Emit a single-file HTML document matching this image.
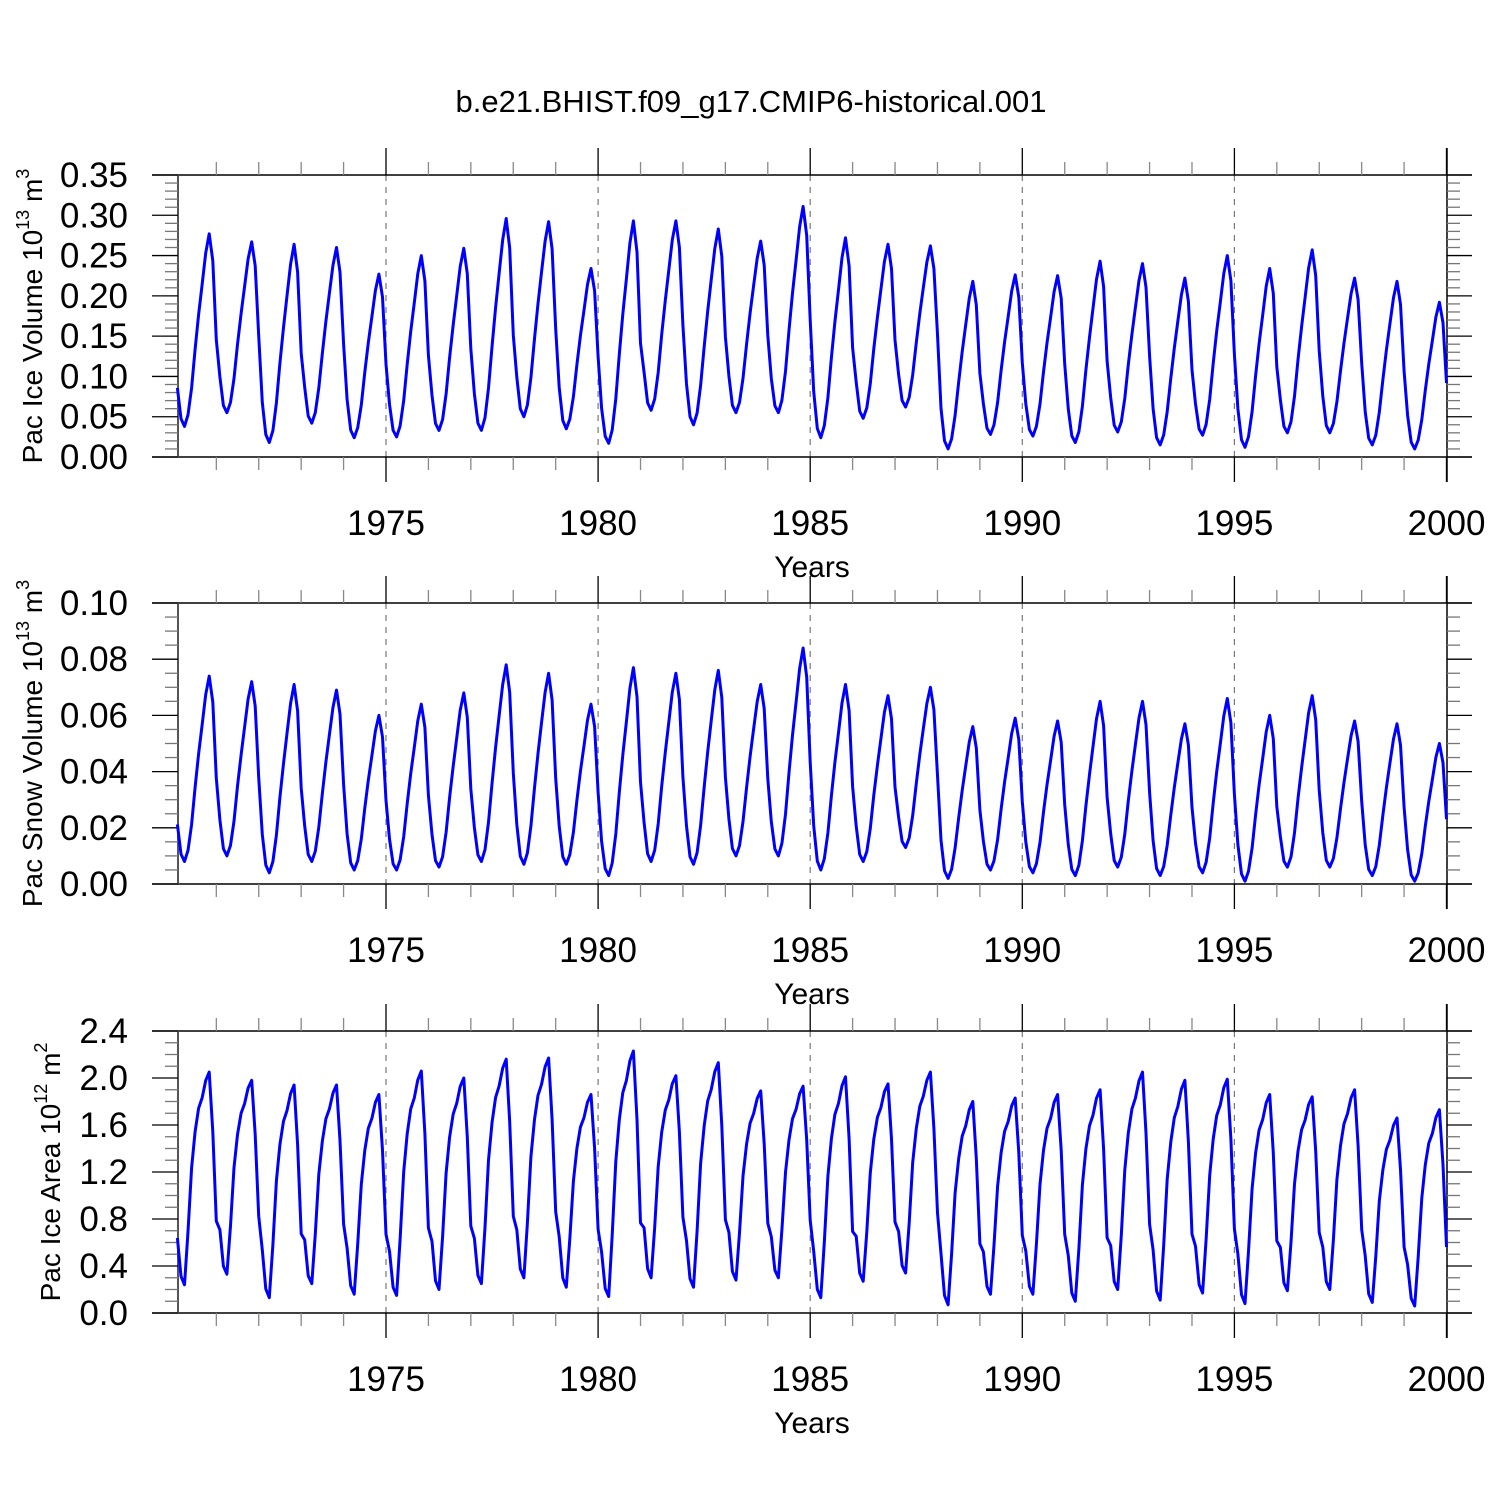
<!DOCTYPE html>
<html><head><meta charset="utf-8"><style>
body{margin:0;background:#fff}
svg{display:block}
text{font-family:"Liberation Sans",Arial,sans-serif;fill:#000}
</style></head><body>
<svg id="chart" width="1500" height="1500" viewBox="0 0 1500 1500" xmlns="http://www.w3.org/2000/svg">
<rect width="1500" height="1500" fill="#fff"/>
<text x="751" y="112" font-size="31" text-anchor="middle">b.e21.BHIST.f09_g17.CMIP6-historical.001</text>
</svg>
<script>
// ---- data (per-year seasonal peaks / troughs) ----
const years = [1970,1971,1972,1973,1974,1975,1976,1977,1978,1979,1980,1981,1982,1983,1984,1985,1986,1987,1988,1989,1990,1991,1992,1993,1994,1995,1996,1997,1998,1999];
const xTickLabels = ["1975","1980","1985","1990","1995","2000"];
const icePeaks = [0.277,0.267,0.264,0.260,0.227,0.250,0.259,0.296,0.292,0.234,0.293,0.293,0.283,0.268,0.311,0.272,0.264,0.262,0.218,0.226,0.225,0.243,0.240,0.222,0.250,0.234,0.257,0.222,0.218,0.192];
const iceTroughs = [0.038,0.055,0.018,0.042,0.024,0.025,0.033,0.033,0.050,0.035,0.017,0.058,0.040,0.055,0.055,0.024,0.048,0.062,0.010,0.028,0.026,0.018,0.031,0.015,0.027,0.012,0.030,0.030,0.015,0.010];
const snowPeaks = [0.074,0.072,0.071,0.069,0.060,0.064,0.068,0.078,0.075,0.064,0.077,0.075,0.076,0.071,0.084,0.071,0.067,0.070,0.056,0.059,0.058,0.065,0.065,0.057,0.066,0.060,0.067,0.058,0.057,0.050];
const snowTroughs = [0.008,0.010,0.004,0.008,0.005,0.005,0.006,0.008,0.007,0.007,0.003,0.008,0.007,0.010,0.010,0.005,0.008,0.013,0.002,0.005,0.004,0.003,0.006,0.003,0.004,0.001,0.006,0.006,0.003,0.001];
const areaPeaks = [2.05,1.98,1.94,1.94,1.86,2.06,2.00,2.16,2.17,1.86,2.23,2.02,2.13,1.89,1.93,2.01,1.95,2.05,1.80,1.83,1.86,1.90,2.05,1.98,1.99,1.86,1.84,1.90,1.66,1.73];
const areaTroughs = [0.24,0.33,0.13,0.25,0.16,0.15,0.20,0.25,0.30,0.22,0.14,0.30,0.22,0.28,0.30,0.13,0.27,0.34,0.07,0.16,0.16,0.10,0.20,0.11,0.17,0.08,0.19,0.20,0.09,0.06];
// monthly seasonal shape (fraction of annual range), Jan..Dec
const volShape = [0.2,0.04,0,0.06,0.2,0.4,0.58,0.74,0.9,1,0.86,0.45];
const areaShape = [0.22,0.04,0,0.25,0.55,0.72,0.83,0.88,0.96,1,0.72,0.3];

const NS="http://www.w3.org/2000/svg";
const svg=document.getElementById('chart');
function el(tag,attrs,parent){const e=document.createElementNS(NS,tag);for(const k in attrs)e.setAttribute(k,attrs[k]);(parent||svg).appendChild(e);return e;}
const X0=386, PXY=42.42;
function xs(t){return X0+(t-1975)*PXY;}
const L=152,R=1472,SL=178,SR=1447;

function monthly(peaks,troughs,shape){
  const out=[];
  for(let i=0;i<years.length;i++){
    for(let m=0;m<12;m++){
      let top=peaks[i];
      if(m<2&&i>0) top=peaks[i-1];
      out.push({t:years[i]+(m+1)/12, v:troughs[i]+(top-troughs[i])*shape[m]});
    }
  }
  return out;
}

function panel(cfg){
  const g=el('g',{});
  
  
  const ys=v=>cfg.bot-(v-cfg.min)/(cfg.max-cfg.min)*(cfg.bot-cfg.top);
  for(let yr=1975;yr<2000;yr+=5){
    const d=el('line',{x1:xs(yr),x2:xs(yr),y1:cfg.top,y2:cfg.bot,stroke:'#777','stroke-width':1.2,'stroke-dasharray':'6,6'},g);
    
    
  }
  el('line',{x1:L,x2:R,y1:cfg.top,y2:cfg.top,stroke:'#000','stroke-width':1.5},g);
  el('line',{x1:L,x2:R,y1:cfg.bot,y2:cfg.bot,stroke:'#000','stroke-width':1.5},g);
  el('line',{x1:SL,x2:SL,y1:cfg.top,y2:cfg.bot,stroke:'#555','stroke-width':2},g);
  el('line',{x1:SR,x2:SR,y1:cfg.top-27,y2:cfg.bot+25,stroke:'#000','stroke-width':1.5},g);
  for(let yr=1971;yr<=2000;yr++){
    const maj=yr%5===0;
    const x=xs(yr);
    el('line',{x1:x,x2:x,y1:cfg.top-(maj?27:13),y2:cfg.top,stroke:maj?'#000':'#888','stroke-width':1.3},g);
    el('line',{x1:x,x2:x,y1:cfg.bot,y2:cfg.bot+(maj?25:13),stroke:maj?'#000':'#888','stroke-width':1.3},g);
  }
  xTickLabels.forEach(s=>{
    const t=el('text',{x:xs(+s),y:cfg.bot+78,'font-size':35,'text-anchor':'middle'},g);
    t.textContent=s;
    
    
  });
  const xt=el('text',{x:812,y:cfg.bot+120,'font-size':30,'text-anchor':'middle'},g);
  xt.textContent='Years';
  
  
  const nMinor=Math.round((cfg.max-cfg.min)/cfg.minor);
  for(let i=0;i<=nMinor;i++){
    const v=cfg.min+i*cfg.minor;
    const maj=Math.abs(v/cfg.major-Math.round(v/cfg.major))<1e-6;
    const y=ys(v);
    el('line',{x1:SL-(maj?26:13),x2:SL,y1:y,y2:y,stroke:maj?'#000':'#777','stroke-width':1.3},g);
    el('line',{x1:SR,x2:SR+(maj?25:13),y1:y,y2:y,stroke:maj?'#000':'#777','stroke-width':1.3},g);
    if(maj){
      const t=el('text',{x:128,y:y+12,'font-size':35,'text-anchor':'end'},g);
      t.textContent=v.toFixed(cfg.dec);
      
      
    }
  }
  const yt=el('text',{x:0,y:0,'font-size':28,'text-anchor':'middle',transform:`translate(${cfg.titleX},${(cfg.top+cfg.bot)/2}) rotate(-90)`},g);
  yt.innerHTML=cfg.title;
  
  
  const pts=monthly(cfg.peaks,cfg.troughs,cfg.shape);
  const line=el('polyline',{points:pts.map(p=>xs(p.t).toFixed(1)+','+ys(p.v).toFixed(1)).join(' '),fill:'none',stroke:'#0000ff','stroke-width':3,'stroke-linejoin':'round'},g);
  
  
}

panel({name:'ice-volume-panel',top:175,bot:457,min:0,max:0.35,major:0.05,minor:0.01,dec:2,peaks:icePeaks,troughs:iceTroughs,shape:volShape,titleX:42,
  title:'Pac Ice Volume 10<tspan dy="-13" font-size="18">13</tspan><tspan dy="13"> m</tspan><tspan dy="-13" font-size="18">3</tspan>'});
panel({name:'snow-volume-panel',top:603,bot:884,min:0,max:0.10,major:0.02,minor:0.005,dec:2,peaks:snowPeaks,troughs:snowTroughs,shape:volShape,titleX:42,
  title:'Pac Snow Volume 10<tspan dy="-13" font-size="18">13</tspan><tspan dy="13"> m</tspan><tspan dy="-13" font-size="18">3</tspan>'});
panel({name:'ice-area-panel',top:1031,bot:1313,min:0,max:2.4,major:0.4,minor:0.1,dec:1,peaks:areaPeaks,troughs:areaTroughs,shape:areaShape,titleX:60,
  title:'Pac Ice Area 10<tspan dy="-13" font-size="18">12</tspan><tspan dy="13"> m</tspan><tspan dy="-13" font-size="18">2</tspan>'});
</script>
</body></html>
